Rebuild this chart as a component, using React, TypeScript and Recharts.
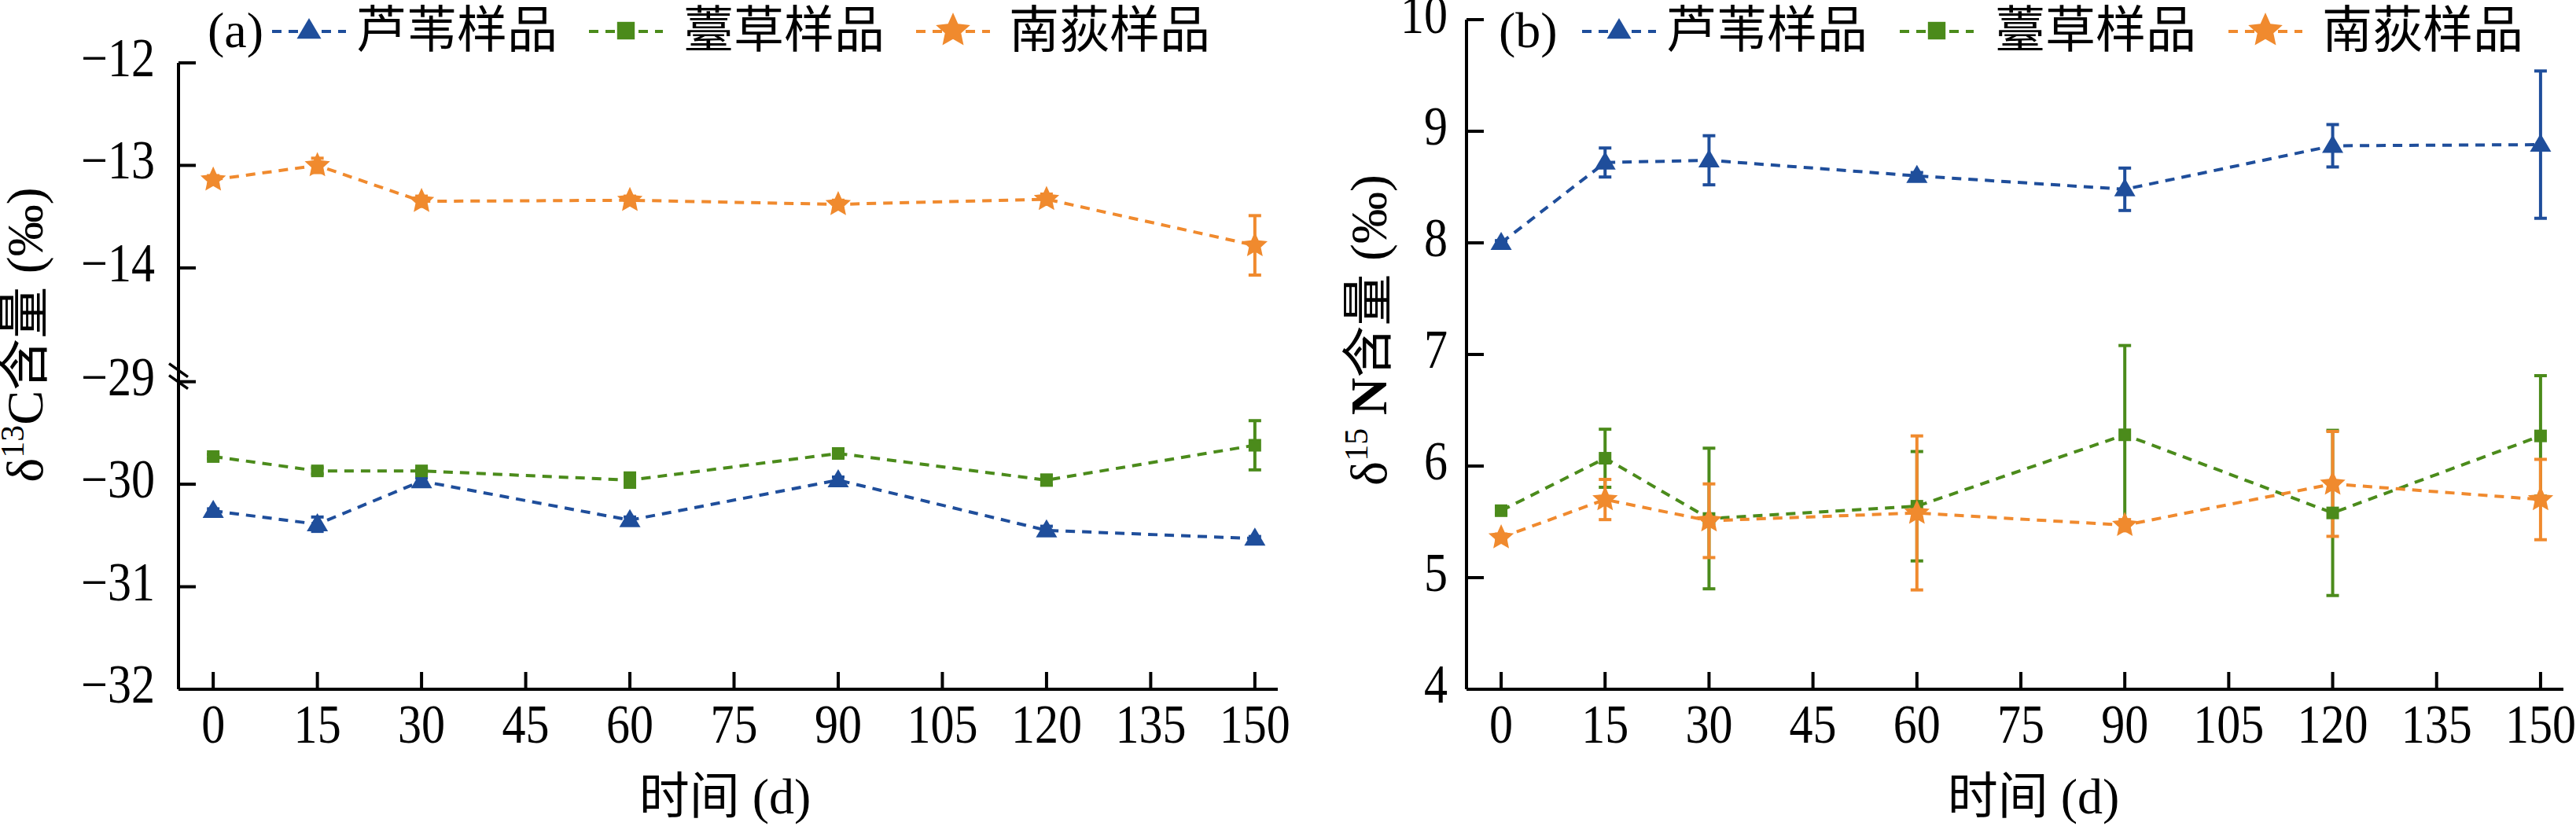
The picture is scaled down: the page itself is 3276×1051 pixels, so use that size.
import React from "react";
import { LineChart, Line, XAxis, YAxis, ErrorBar } from "recharts";

const SERIF = "'Liberation Serif', 'Times New Roman', serif";
const CJK = "'Noto Sans CJK SC', 'Noto Sans CJK JP', sans-serif";

const BLUE = "#1F4E9B";
const GREEN = "#4B8B1B";
const ORANGE = "#F08A2E";

// sampling days
const days = [0, 15, 30, 60, 90, 120, 150];
const xTicks = [0, 15, 30, 45, 60, 75, 90, 105, 120, 135, 150];
const seriesNames = ["芦苇样品", "薹草样品", "南荻样品"];

// (a) δ13C, ‰
const reedC = [-30.26, -30.39, -29.97, -30.35, -29.96, -30.45, -30.53];
const reedCErr = [0.02, 0.07, 0.03, 0.03, 0.03, 0.04, 0.02];
const sedgeC = [-29.73, -29.87, -29.87, -29.96, -29.7, -29.96, -29.62];
const sedgeCErr = [0.02, 0.03, 0.02, 0.07, 0.03, 0.05, 0.24];
const mischC = [-13.14, -13.0, -13.35, -13.34, -13.38, -13.33, -13.78];
const mischCErr = [0.04, 0.07, 0.05, 0.04, 0.04, 0.05, 0.29];
const cTicks = [-32, -31, -30, -29, -14, -13, -12];

// (b) δ15N, ‰
const reedN = [8.0, 8.72, 8.74, 8.6, 8.48, 8.87, 8.88];
const reedNErr = [0.02, 0.13, 0.22, 0.03, 0.19, 0.19, 0.66];
const sedgeN = [5.6, 6.07, 5.53, 5.64, 6.28, 5.58, 6.27];
const sedgeNErr = [0.03, 0.26, 0.63, 0.49, 0.8, 0.74, 0.54];
const mischN = [5.36, 5.7, 5.51, 5.58, 5.47, 5.84, 5.7];
const mischNErr = [0.03, 0.18, 0.33, 0.69, 0.05, 0.47, 0.36];
const nTicks = [4, 5, 6, 7, 8, 9, 10];

// broken y axis in (a): the -14..-12 block sits right above -29
const BREAK_SHIFT = 18.11;
const toBroken = (v: number) => (v > -20 ? v + BREAK_SHIFT : v + 32);
const fromBroken = (t: number) => cTicks.find((v) => Math.abs(toBroken(v) - t) < 1e-6) ?? t;

const carbonData = days.map((d, i) => ({
  day: d,
  reed: toBroken(reedC[i]),
  reedErr: reedCErr[i],
  sedge: toBroken(sedgeC[i]),
  sedgeErr: sedgeCErr[i],
  misch: toBroken(mischC[i]),
  mischErr: mischCErr[i],
}));

const nitrogenData = days.map((d, i) => ({
  day: d,
  reed: reedN[i],
  reedErr: reedNErr[i],
  sedge: sedgeN[i],
  sedgeErr: sedgeNErr[i],
  misch: mischN[i],
  mischErr: mischNErr[i],
}));

type Shape = "triangle" | "square" | "star";

function Marker({ cx, cy, shape, color, size = 1 }: { cx: number; cy: number; shape: Shape; color: string; size?: number }) {
  if (cx == null || cy == null) return null;
  if (shape === "triangle") {
    const w = 13.5 * size;
    return (
      <polygon
        points={`${cx},${cy - 14 * size} ${cx + w},${cy + 9 * size} ${cx - w},${cy + 9 * size}`}
        fill={color}
      />
    );
  }
  if (shape === "square") {
    const h = 8 * size;
    return <rect x={cx - h} y={cy - h} width={2 * h} height={2 * h} fill={color} />;
  }
  const pts: string[] = [];
  for (let k = 0; k < 10; k++) {
    const r = (k % 2 === 0 ? 17 : 8) * size;
    const a = -Math.PI / 2 + (k * Math.PI) / 5;
    pts.push(`${cx + r * Math.cos(a)},${cy + r * Math.sin(a)}`);
  }
  return <polygon points={pts.join(" ")} fill={color} />;
}

const series: { key: string; color: string; shape: Shape; legendSize: number }[] = [
  { key: "reed", color: BLUE, shape: "triangle", legendSize: 1.15 },
  { key: "sedge", color: GREEN, shape: "square", legendSize: 1.4 },
  { key: "misch", color: ORANGE, shape: "star", legendSize: 1.35 },
];

const PLOT_LEFT = 227;
const PLOT_BOTTOM = 877;
const TICK = 22;

function TickText({ x, y, anchor, children }: { x: number; y: number; anchor: "end" | "middle"; children: React.ReactNode }) {
  // the reference numerals are a slightly condensed Times face
  return (
    <text
      transform={`translate(${x},${y}) scale(0.87,1)`}
      textAnchor={anchor}
      fontFamily={SERIF}
      fontSize={69}
      fill="#000"
    >
      {children}
    </text>
  );
}

function YTick(props: any) {
  const { y, payload, gap, labelOf, breakAt } = props;
  const label = labelOf(payload.value);
  return (
    <g>
      <line x1={PLOT_LEFT} x2={PLOT_LEFT + TICK} y1={y} y2={y} stroke="#000" strokeWidth={4} />
      <TickText x={PLOT_LEFT - gap} y={y + 17} anchor="end">
        {label}
      </TickText>
      {breakAt === label && (
        <g stroke="#000" strokeWidth={3.5}>
          <line x1={PLOT_LEFT - 12} y1={y - 23} x2={PLOT_LEFT + 12} y2={y - 6} />
          <line x1={PLOT_LEFT - 12} y1={y - 8} x2={PLOT_LEFT + 12} y2={y + 9} />
        </g>
      )}
    </g>
  );
}

function XTick(props: any) {
  const { x, payload } = props;
  return (
    <g>
      <line x1={x} x2={x} y1={PLOT_BOTTOM - TICK} y2={PLOT_BOTTOM} stroke="#000" strokeWidth={4} />
      <TickText x={x} y={PLOT_BOTTOM + 68} anchor="middle">
        {payload.value}
      </TickText>
    </g>
  );
}

function Panel({
  data,
  width,
  top,
  right,
  domain,
  ticks,
  labelOf,
  gap,
  breakAt,
}: {
  data: any[];
  width: number;
  top: number;
  right: number;
  domain: [number, number];
  ticks: number[];
  labelOf: (v: number) => string;
  gap: number;
  breakAt?: string;
}) {
  return (
    <LineChart
      width={width}
      height={1051}
      data={data}
      margin={{ top, right, bottom: 114, left: 127 }}
    >
      <XAxis
        type="number"
        dataKey="day"
        domain={[-5, 153.3]}
        ticks={xTicks}
        interval={0}
        allowDataOverflow
        height={60}
        axisLine={{ stroke: "#000", strokeWidth: 4 }}
        tickLine={false}
        tick={(p: any) => <XTick {...p} />}
      />
      <YAxis
        type="number"
        domain={domain}
        ticks={ticks}
        interval={0}
        allowDataOverflow
        width={100}
        axisLine={{ stroke: "#000", strokeWidth: 4 }}
        tickLine={false}
        tick={(p: any) => <YTick {...p} gap={gap} labelOf={labelOf} breakAt={breakAt} />}
      />
      {series.map((s) => (
        <Line
          key={s.key}
          type="linear"
          dataKey={s.key}
          stroke={s.color}
          strokeWidth={4}
          strokeDasharray="12 9"
          isAnimationActive={false}
          activeDot={false}
          dot={(p: any) => <Marker key={p.index} cx={p.cx} cy={p.cy} shape={s.shape} color={s.color} />}
        >
          <ErrorBar
            dataKey={`${s.key}Err`}
            direction="y"
            width={8}
            strokeWidth={4}
            stroke={s.color}
            isAnimationActive={false}
          />
        </Line>
      ))}
    </LineChart>
  );
}

function LegendRow({ tag, tagX, lineX, textX }: { tag: string; tagX: number; lineX: number[]; textX: number[] }) {
  return (
    <g>
      <text x={tagX} y={60} fontFamily={SERIF} fontSize={64}>
        {tag}
      </text>
      {series.map((s, i) => (
        <g key={s.key}>
          <line x1={lineX[i]} x2={lineX[i] + 94} y1={40} y2={40} stroke={s.color} strokeWidth={4} strokeDasharray="12 9" />
          <Marker cx={lineX[i] + 47} cy={39} shape={s.shape} color={s.color} size={s.legendSize} />
          <text x={textX[i]} y={60} fontFamily={CJK} fontSize={64}>
            {seriesNames[i]}
          </text>
        </g>
      ))}
    </g>
  );
}

export default function App() {
  const minus = (v: number) => (v < 0 ? `\u2212${Math.abs(v)}` : `${v}`);
  return (
    <div style={{ position: "absolute", left: 0, top: 0, width: 3276, height: 1051, background: "#fff", overflow: "hidden" }}>
      <div style={{ position: "absolute", left: 0, top: 0 }}>
        <Panel
          data={carbonData}
          width={1700}
          top={80}
          right={75}
          domain={[0, toBroken(-12)]}
          ticks={cTicks.map(toBroken)}
          labelOf={(t) => minus(fromBroken(t))}
          gap={30}
          breakAt={"\u221229"}
        />
      </div>
      <div style={{ position: "absolute", left: 1638, top: 0 }}>
        <Panel
          data={nitrogenData}
          width={1638}
          top={25}
          right={16}
          domain={[4, 10]}
          ticks={nTicks}
          labelOf={(v) => `${v}`}
          gap={24}
        />
      </div>
      <svg
        width={3276}
        height={1051}
        style={{ position: "absolute", left: 0, top: 0, pointerEvents: "none" }}
      >
        <LegendRow tag="(a)" tagX={264} lineX={[346, 749, 1165]} textX={[453, 869, 1283]} />
        <LegendRow tag="(b)" tagX={1906} lineX={[2012, 2416, 2834]} textX={[2119, 2537, 2953]} />

        <text transform="rotate(-90 54 426)" x={54} y={426} textAnchor="middle" fontSize={66} fill="#000">
          <tspan fontFamily={SERIF}>δ</tspan>
          <tspan fontFamily={SERIF} fontSize={42} dy={-24}>13</tspan>
          <tspan fontFamily={SERIF} dy={24}>C</tspan>
          <tspan fontFamily={CJK}>含量</tspan>
          <tspan fontFamily={SERIF}> (‰)</tspan>
        </text>
        <text transform="rotate(-90 1763 420)" x={1763} y={420} textAnchor="middle" fontSize={66} fill="#000">
          <tspan fontFamily={SERIF}>δ</tspan>
          <tspan fontFamily={SERIF} fontSize={42} dy={-24}>15</tspan>
          <tspan fontFamily={SERIF} fontWeight="bold" dy={24}> N</tspan>
          <tspan fontFamily={CJK}>含量</tspan>
          <tspan fontFamily={SERIF}> (‰)</tspan>
        </text>

        <text x={922} y={1035} textAnchor="middle" fontSize={64} fill="#000">
          <tspan fontFamily={CJK}>时间</tspan>
          <tspan fontFamily={SERIF}> (d)</tspan>
        </text>
        <text x={2586} y={1035} textAnchor="middle" fontSize={64} fill="#000">
          <tspan fontFamily={CJK}>时间</tspan>
          <tspan fontFamily={SERIF}> (d)</tspan>
        </text>
      </svg>
    </div>
  );
}
